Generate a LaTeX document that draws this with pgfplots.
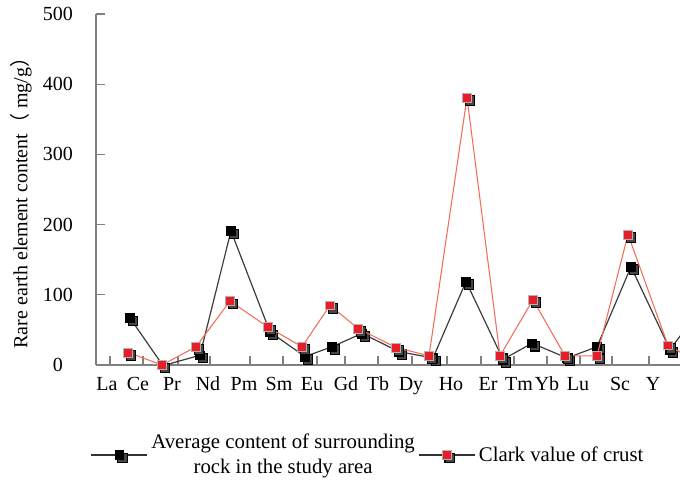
\documentclass[border=0pt]{standalone}
\usepackage{pgfplots}
\usepackage{pgfplotstable}
\pgfplotsset{compat=1.18}
\usepackage{fontspec}
\setmainfont{Liberation Serif}
\newfontfamily\cjk{Noto Sans CJK SC}
\definecolor{redline}{RGB}{240,110,90}
\definecolor{redmark}{RGB}{230,30,40}
\definecolor{axgray}{RGB}{128,128,128}
\definecolor{blkline}{RGB}{60,60,60}

\pgfplotstableread{
x y
130 67
163 -1
200 14
231 191
270 47
305 12
332 26
362 45
399 19
433 10
466 119
503 8
532 31
567 10
597 26
631 140
670 22
703 85
}\blackdata

\pgfplotstableread{
x y
128 18
162 0
196 26
230 91
268 54
302 26
330 85
358 52
396 25
429 13
467 381
500 13
533 93
565 13
597 13
628 186
668 28
703 0
}\reddata

\tikzset{lab/.style={anchor=base, inner sep=0pt, yshift=-19pt}}

\begin{document}
\begin{tikzpicture}[font=\fontsize{15}{18}\selectfont]
\useasboundingbox (-72pt,-87.75pt) rectangle (438pt,273.75pt);
\begin{axis}[
  scale only axis, width=438pt, height=263.25pt,
  xmin=96, xmax=680, ymin=0, ymax=500,
  clip mode=individual,
  axis x line*=bottom, axis y line*=left,
  axis line style={axgray, line width=1.2pt},
  tick style={axgray, line width=1pt},
  tick align=inside, major tick length=7pt,
  xtick={110,143,178,210,250,283,317,345,378,412,447,481,514,547,580,612,649},
  xticklabel={\relax},
  ytick={0,100,...,500},
  /pgf/number format/assume math mode=true,
  yticklabel style={inner sep=0pt, anchor=center, xshift=-28.5pt},
  ylabel={Rare earth element content{\cjk （} mg/g{\cjk ）}},
  ylabel style={at={(axis description cs:-0.1284,0.4758)}, anchor=center},
  legend style={at={(axis description cs:-0.0103,-0.2564)}, anchor=west,
    draw=none, fill=none, inner sep=0pt, outer sep=0pt,
    font=\fontsize{15.6}{18.7}\selectfont,
    cells={align=center, anchor=west}},
  legend columns=2,
]
% black series
\addplot[forget plot, blkline, line width=0.9pt, no marks] table[x=x,y=y] {\blackdata};
\addplot[forget plot, only marks, mark=square*, mark size=3.6pt,
  skip coords between index={17}{18},
  mark options={fill=gray!55!black, draw=black, line width=0.8pt, xshift=2.2pt, yshift=-2.2pt}]
  table[x=x,y=y] {\blackdata};
\addplot[forget plot, only marks, mark=square*, mark size=3.3pt,
  skip coords between index={17}{18},
  mark options={fill=black, draw=black, line width=0.4pt}]
  table[x=x,y=y] {\blackdata};
% red series
\addplot[forget plot, redline, line width=0.8pt, no marks] table[x=x,y=y] {\reddata};
\addplot[forget plot, only marks, mark=square*, mark size=3.6pt,
  skip coords between index={17}{18},
  mark options={fill=gray!55!black, draw=black, line width=0.8pt, xshift=2.2pt, yshift=-2.2pt}]
  table[x=x,y=y] {\reddata};
\addplot[forget plot, only marks, mark=square*, mark size=3.3pt,
  skip coords between index={17}{18},
  mark options={fill=redmark, draw=gray!60, line width=0.4pt}]
  table[x=x,y=y] {\reddata};

\addlegendimage{legend image code/.code={
  \draw[line width=2pt, black!80] (0pt,0pt) -- (42pt,0pt);
  \draw[fill=gray!55!black, draw=black, line width=0.8pt] (19.6pt,-5.8pt) rectangle (26.8pt,1.4pt);
  \draw[fill=black, draw=black] (17.7pt,-3.3pt) rectangle (24.3pt,3.3pt);
}}
\addlegendentry{Average content of surrounding\\rock in the study area}
\addlegendimage{legend image code/.code={
  \draw[line width=2pt, black!80] (0pt,0pt) -- (42pt,0pt);
  \draw[fill=gray!55!black, draw=black, line width=0.8pt] (19.6pt,-5.8pt) rectangle (26.8pt,1.4pt);
  \draw[fill=redmark, draw=gray!60] (17.7pt,-3.3pt) rectangle (24.3pt,3.3pt);
}}
\addlegendentry{Clark value of crust}

\node[lab] at (axis cs:107,0) {La};
\node[lab] at (axis cs:138,0) {Ce};
\node[lab] at (axis cs:172,0) {Pr};
\node[lab] at (axis cs:208,0) {Nd};
\node[lab] at (axis cs:244,0) {Pm};
\node[lab] at (axis cs:279,0) {Sm};
\node[lab] at (axis cs:312,0) {Eu};
\node[lab] at (axis cs:346,0) {Gd};
\node[lab] at (axis cs:378,0) {Tb};
\node[lab] at (axis cs:411,0) {Dy};
\node[lab] at (axis cs:451,0) {Ho};
\node[lab] at (axis cs:488,0) {Er};
\node[lab] at (axis cs:519,0) {Tm};
\node[lab] at (axis cs:547,0) {Yb};
\node[lab] at (axis cs:578,0) {Lu};
\node[lab] at (axis cs:620,0) {Sc};
\node[lab] at (axis cs:653,0) {Y};
\end{axis}
\end{tikzpicture}
\end{document}
